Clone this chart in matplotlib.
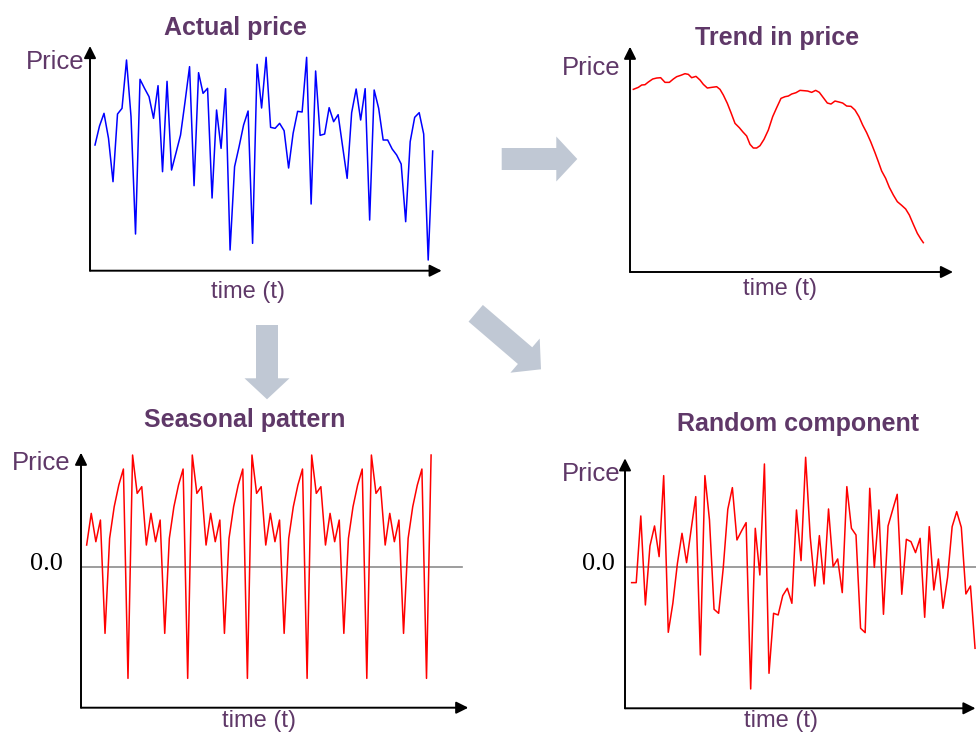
import matplotlib
matplotlib.use("Agg")
import matplotlib.pyplot as plt
from matplotlib.patches import FancyArrow

# ---------------- data ----------------
actual_price = [37.7, 43.4, 47.2, 39.7, 26.7, 47.0, 48.7, 63.2, 46.2, 11.0,
                57.4, 54.7, 52.2, 45.7, 55.5, 29.7, 56.8, 30.2, 35.4, 40.7,
                50.7, 61.2, 25.5, 59.4, 53.2, 54.7, 21.8, 48.2, 36.7, 54.6,
                6.2, 31.2, 37.2, 43.7, 47.9, 8.2, 61.9, 48.8, 64.0, 43.0,
                42.7, 44.2, 42.0, 30.8, 41.2, 47.8, 47.6, 64.0, 20.0, 59.9,
                40.6, 41.0, 48.9, 44.7, 46.8, 37.2, 27.7, 47.4, 54.5, 45.2,
                54.6, 15.2, 54.2, 48.7, 39.2, 39.2, 36.5, 34.7, 32.0, 14.7,
                38.7, 46.0, 47.4, 41.0, 3.2, 35.9]

trend_t = [4.0, 5.5, 6.5, 7.5, 8.5, 9.8, 11.0, 12.2, 13.5, 14.8,
           16.0, 17.0, 18.2, 19.5, 20.5, 21.5, 22.8, 24.0, 25.0, 26.2,
           27.5, 29.0, 30.0, 31.0, 32.2, 33.3, 34.5, 35.8, 36.8, 38.0,
           39.0, 40.0, 41.0, 42.0, 43.2, 44.5, 45.8, 47.0, 48.3, 49.5,
           50.5, 51.5, 52.8, 54.0, 55.2, 56.3, 57.5, 58.7, 59.8, 61.0,
           62.2, 63.3, 64.5, 65.7, 66.8, 68.0, 69.3, 70.5, 71.7, 72.8,
           74.0, 75.2, 76.5, 77.5, 78.5, 79.7, 80.8, 82.0, 83.2, 84.5,
           85.7, 86.8, 88.0, 89.2, 90.3, 91.0]
trend = [54.8, 55.4, 56.1, 56.2, 57.0, 57.9, 58.2, 58.3, 56.9, 56.9,
         57.9, 58.6, 59.0, 59.5, 59.3, 58.3, 58.7, 57.6, 56.3, 55.2,
         55.4, 55.6, 54.8, 53.1, 50.6, 47.8, 44.6, 43.3, 42.1, 40.8,
         38.3, 37.2, 37.2, 37.9, 39.8, 42.6, 46.6, 49.3, 52.1, 52.6,
         52.8, 53.4, 53.8, 54.5, 54.4, 54.3, 53.9, 54.5, 53.9, 52.3,
         50.7, 50.4, 51.3, 51.0, 50.7, 49.8, 49.7, 48.6, 46.6, 44.1,
         41.8, 39.1, 35.8, 33.1, 30.3, 28.1, 25.4, 23.1, 21.1, 20.0,
         18.9, 17.1, 14.3, 11.6, 9.8, 8.8]

seasonal = [6.7, 16.2, 7.7, 14.2, -19.8, 8.7, 18.2, 24.7, 29.5, -33.3, 33.7, 22.2, 24.2,
            6.7, 16.2, 7.7, 14.2, -19.8, 8.7, 18.2, 24.7, 29.5, -33.3, 33.7, 22.2, 24.2,
            6.7, 16.2, 7.7, 14.2, -19.8, 8.7, 18.2, 24.7, 29.5, -33.3, 33.7, 22.2, 24.2,
            6.7, 16.2, 7.7, 14.2, -19.8, 8.7, 18.2, 24.7, 29.5, -33.3, 33.7, 22.2, 24.2,
            6.7, 16.2, 7.7, 14.2, -19.8, 8.7, 18.2, 24.7, 29.5, -33.3, 33.7, 22.2, 24.2,
            6.7, 16.2, 7.7, 14.2, -19.8, 8.7, 18.2, 24.7, 29.5, -33.3, 33.7]

random_comp = [-4.6, -4.6, 15.4, -11.3, 6.4, 12.4, 3.2, 27.5, -19.5, -10.8,
               1.2, 10.2, 1.4, 11.4, 21.2, -26.3, 27.5, 14.2, -12.6, -13.8,
               -0.3, 17.4, 23.9, 8.2, 10.9, 13.4, -36.5, 11.7, -2.3, 31.0,
               -31.8, -13.8, -14.3, -8.5, -6.3, -10.8, 17.2, 2.0, 33.0, 9.2,
               -5.6, 9.5, -5.0, 17.5, 0.2, 2.5, -7.6, 24.2, 11.7, 9.7,
               -18.3, -19.6, 23.7, 0.0, 17.2, -14.1, 12.4, 17.2, 21.9, -8.1,
               8.4, 7.7, 4.4, 8.7, -15.0, 12.2, -6.8, 2.5, -12.3, -3.0,
               12.2, 16.7, 12.0, -8.0, -5.6, -24.3]

titles = ["Actual price", "Trend in price", "Seasonal pattern", "Random component"]
y_label = "Price"
x_label = "time (t)"
zero_label = "0.0"

# ---------------- styling ----------------
W, H = 976, 736
PURPLE = "#5f3868"
ARROW_GRAY = "#c0c8d4"
FONT = ["Liberation Sans", "DejaVu Sans"]
SERIF = ["Liberation Serif", "DejaVu Serif"]

fig = plt.figure(figsize=(W / 100, H / 100), dpi=100)
bg = fig.add_axes([0, 0, 1, 1])
bg.set_xlim(0, W)
bg.set_ylim(H, 0)
bg.axis("off")


def panel(left, right, top, bottom):
    ax = fig.add_axes([left / W, 1 - bottom / H, (right - left) / W, (bottom - top) / H])
    ax.axis("off")
    ax.patch.set_alpha(0)
    for xy in [(0, 1), (1, 0)]:
        ax.annotate("", xy=xy, xytext=(0, 0), xycoords="axes fraction",
                    textcoords="axes fraction",
                    arrowprops=dict(arrowstyle="-|>", color="black", lw=1.4,
                                    mutation_scale=18, shrinkA=0, shrinkB=0))
    return ax


# Panel 1: actual price
ax1 = panel(90, 441.7, 46, 270.7)
ax1.plot(range(len(actual_price)), actual_price, color="#0000ff", lw=1.1, clip_on=False)
ax1.set_xlim(-1.11, 77.0)
ax1.set_ylim(0, 67.4)

# Panel 2: trend
ax2 = panel(630, 953, 46.7, 272)
ax2.plot(trend_t, trend, color="#ff0000", lw=1.1, clip_on=False)
ax2.set_xlim(3.0, 99.9)
ax2.set_ylim(0, 67.6)

# Panel 3: seasonal
ax3 = panel(81, 468.3, 452.7, 707.7)
ax3.plot([-1.23, 81.8], [0, 0], color="#8c8c8c", lw=1.2, clip_on=False)
ax3.plot(range(len(seasonal)), seasonal, color="#ff0000", lw=1.1, clip_on=False)
ax3.set_xlim(-1.23, 83.1)
ax3.set_ylim(-42.1, 34.4)

# Panel 4: random
ax4 = panel(625, 975.5, 458.3, 708.3)
ax4.plot([-1.45, 75.1], [0, 0], color="#8c8c8c", lw=1.2, clip_on=False)
ax4.plot(range(len(random_comp)), random_comp, color="#ff0000", lw=1.1, clip_on=False)
ax4.set_xlim(-1.45, 75.1)
ax4.set_ylim(-42.3, 32.7)

# ---------------- texts ----------------
title_pos = [(235, 28), (777, 38.5), (244.5, 420), (798, 424)]
for t, (x, y) in zip(titles, title_pos):
    bg.text(x, y, t, ha="center", va="center", fontsize=18, fontweight="bold",
            color=PURPLE, family=FONT)

for x, y in [(84, 62), (620, 68.3), (70.7, 463.3), (620, 474)]:
    bg.text(x, y, y_label, ha="right", va="center", fontsize=18.5, color=PURPLE, family=FONT)

for x, y in [(248, 292), (780, 289), (259, 721), (781, 721)]:
    bg.text(x, y, x_label, ha="center", va="center", fontsize=17, color=PURPLE, family=FONT)

for x, y in [(63, 564), (615, 564)]:
    bg.text(x, y, zero_label, ha="right", va="center", fontsize=19, color="black", family=SERIF)

# ---------------- big gray arrows ----------------
arrow_kw = dict(width=22, head_width=45, head_length=21, length_includes_head=True,
                color=ARROW_GRAY, lw=0)
bg.add_patch(FancyArrow(501.7, 159, 577.3 - 501.7, 0, **arrow_kw))
bg.add_patch(FancyArrow(267, 325, 0, 399.3 - 325, **arrow_kw))
bg.add_patch(FancyArrow(475.7, 313.3, 541 - 475.7, 369.3 - 313.3, **arrow_kw))

fig.savefig("out.png", dpi=100)
